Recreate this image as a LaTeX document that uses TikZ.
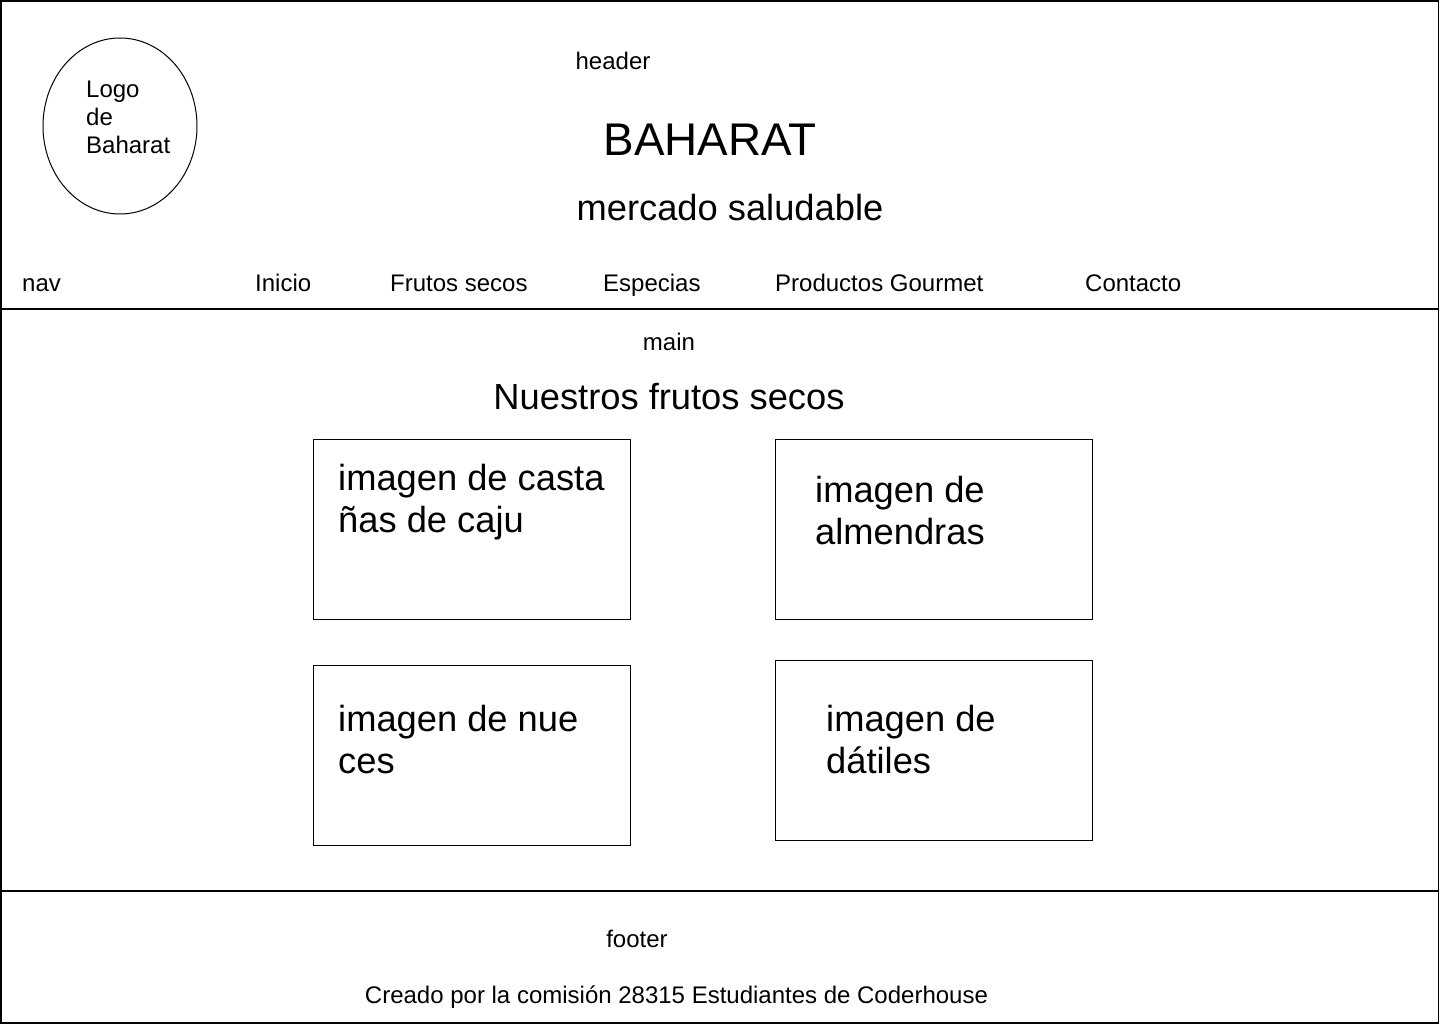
\documentclass[tikz,border=0pt]{standalone}
\usepackage{fontspec}
\setmainfont{Liberation Sans}
\usetikzlibrary{shapes.geometric}
\begin{document}
\begin{tikzpicture}[x=1pt,y=-1pt,
  small/.style={inner sep=0pt,font=\fontsize{24}{28}\selectfont},
  big/.style={inner sep=0pt,font=\fontsize{36.3}{41.5}\selectfont},
  imgbox/.style={draw,line width=1pt},
  divider/.style={line width=2pt}]
\useasboundingbox (0,0) rectangle (1440,1024);
\draw[line width=1.6pt] (1,1) rectangle (1438.5,1023);
\coordinate (hl) at (1,309); \coordinate (hr) at (1438.5,309);
\coordinate (fl) at (1,891); \coordinate (fr) at (1438.5,891);
\draw[divider] (hl) -- (hr);
\draw[divider] (fl) -- (fr);
% header
\node[draw,line width=1pt,ellipse,minimum width=154pt,minimum height=176pt,inner sep=0pt] (logo) at (120,126) {};
\node[small,anchor=base west,align=left] (logotxt) at (86,154) {Logo\\de\\Baharat};
\node[small,anchor=base] (header) at (613,70) {header};
\node[inner sep=0pt,anchor=base,font=\fontsize{45.8}{50}\selectfont] (title) at (710,156) {BAHARAT};
\node[big,anchor=base] (sub) at (730,221) {mercado saludable};
% nav
\node[small,anchor=base west] (nav) at (22,291) {nav};
\node[small,anchor=base west] (n1) at (255,291) {Inicio};
\node[small,anchor=base west] (n2) at (390,291) {Frutos secos};
\node[small,anchor=base west] (n3) at (603,291) {Especias};
\node[small,anchor=base west] (n4) at (775,291) {Productos Gourmet};
\node[small,anchor=base west] (n5) at (1085,291) {Contacto};
% main
\node[small,anchor=base] (main) at (669,350) {main};
\node[big,anchor=base] (mtitle) at (669,409) {Nuestros frutos secos};
\draw[imgbox] (313.5,439.5) rectangle (630.5,619.5);
\draw[imgbox] (775.5,439.5) rectangle (1092.5,619.5);
\draw[imgbox] (313.5,665.5) rectangle (630.5,845.5);
\draw[imgbox] (775.5,660.5) rectangle (1092.5,840.5);
\node[big,anchor=base west,align=left] (t1) at (338,532) {imagen de casta\\ñas de caju};
\node[big,anchor=base west,align=left] (t2) at (815,544) {imagen de\\almendras};
\node[big,anchor=base west,align=left] (t3) at (338,773) {imagen de nue\\ces};
\node[big,anchor=base west,align=left] (t4) at (826,773) {imagen de\\dátiles};
% footer
\node[small,anchor=base] (footer) at (637,947) {footer};
\node[small,anchor=base] (credit) at (676.5,1003) {Creado por la comisión 28315 Estudiantes de Coderhouse};
\end{tikzpicture}
\end{document}
